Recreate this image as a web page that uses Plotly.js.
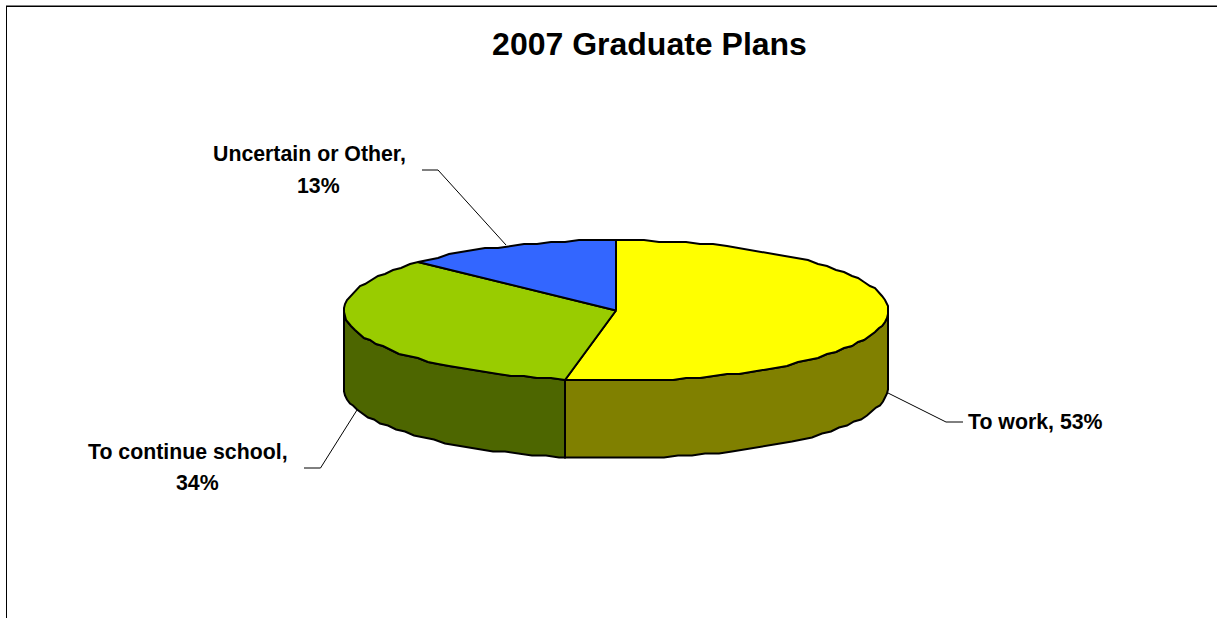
<!DOCTYPE html>
<html>
<head>
<meta charset="utf-8">
<script src="https://cdn.plot.ly/plotly-3.0.1.min.js"></script>
<style>html,body{margin:0;padding:0;background:#fff;overflow:hidden}</style>
</head>
<body>
<div id="chart" style="width:1217px;height:618px"></div>
<script>
// Survey results
const categories = ['To work', 'To continue school', 'Uncertain or Other'];
const percents = [53, 34, 13];
const chartTitle = '2007 Graduate Plans';

// Slice colours
const topColors = ['#FFFF00', '#99CC00', '#3366FF'];
const sideColors = ['#808000', '#4D6600', '#19337F'];

// Disc geometry, in the page units of the hidden axes
const disc = { cx: 616, cy: 310.5, rx: 272, ry: 70.3, depth: 77.5 };
const STEP_DEG = 3;
const GRID_Y = 2;
const snapY = v => Math.round(v / GRID_Y) * GRID_Y;

function rimPoint(deg, drop) {
  const t = deg * Math.PI / 180;
  return [Math.round(disc.cx + disc.rx * Math.sin(t)), snapY(disc.cy - disc.ry * Math.cos(t)) + drop];
}

function arc(from, to, drop) {
  const pts = [];
  const dir = to >= from ? 1 : -1;
  for (let d = from; dir * (to - d) > 0.001; d += dir * STEP_DEG) pts.push(rimPoint(d, drop));
  pts.push(rimPoint(to, drop));
  return pts;
}

const traces = [];
const tops = [];
let start = 0;
percents.forEach((p, i) => {
  const end = start + p * 3.6;
  const a = Math.max(start, 90), b = Math.min(end, 270);
  if (b > a) {
    const wall = arc(a, b, 0).concat(arc(b, a, disc.depth));
    wall.push(wall[0]);
    traces.push({
      type: 'scatter', mode: 'lines', fill: 'toself', name: categories[i] + ' side',
      x: wall.map(q => q[0]), y: wall.map(q => q[1]),
      fillcolor: sideColors[i], line: { color: '#000', width: 2 }, hoverinfo: 'skip'
    });
  }
  const face = [[disc.cx, disc.cy]].concat(arc(start, end, 0));
  face.push([disc.cx, disc.cy]);
  tops.push({
    type: 'scatter', mode: 'lines', fill: 'toself', name: categories[i],
    x: face.map(q => q[0]), y: face.map(q => q[1]),
    fillcolor: topColors[i], line: { color: '#000', width: 2 },
    text: categories[i] + ', ' + p + '%', hoverinfo: 'text'
  });
  start = end;
});

const labelFont = { family: '"Liberation Sans", Arial, sans-serif', size: 21.3, color: '#000' };

function label(text, x, y) {
  return { text: '<b>' + text + '</b>', x, y, xref: 'x', yref: 'y', showarrow: false, xanchor: 'center', yanchor: 'middle', font: labelFont };
}

const annotations = [
  label(categories[0] + ', ' + percents[0] + '%', 1035.5, 422),
  label(categories[1] + ',', 187.5, 452),
  label(percents[1] + '%', 197, 483),
  label(categories[2] + ',', 309.5, 154),
  label(percents[2] + '%', 318, 186)
];

function leader(x, y) {
  return { type: 'path', xref: 'x', yref: 'y',
    path: 'M' + x.map((v, i) => v + ',' + y[i]).join('L'),
    line: { color: '#000', width: 1 } };
}

const shapes = [
  leader([888, 946, 963], [393, 422, 422]),
  leader([357, 320.5, 304], [410, 468, 468]),
  leader([506, 438, 422], [245, 170, 170]),
  // Chart border: only the top and left edges are visible
  { type: 'line', xref: 'x', yref: 'y', x0: 6, x1: 1217, y0: 6.25, y1: 6.25, line: { color: '#000', width: 1.5 } },
  { type: 'line', xref: 'x', yref: 'y', x0: 6.5, x1: 6.5, y0: 6, y1: 618, line: { color: '#000', width: 1 } }
];

const hiddenAxis = { visible: false, showgrid: false, zeroline: false, fixedrange: true };

Plotly.newPlot('chart', traces.concat(tops), {
  width: 1217, height: 618,
  margin: { l: 0, r: 0, t: 0, b: 0 },
  paper_bgcolor: '#fff', plot_bgcolor: '#fff',
  showlegend: false,
  title: {
    text: '<b>' + chartTitle + '</b>',
    x: 649.5 / 1217, xanchor: 'center', xref: 'paper',
    y: 1 - 44 / 618, yanchor: 'middle', yref: 'container',
    font: { family: '"Liberation Sans", Arial, sans-serif', size: 32, color: '#000' }
  },
  xaxis: Object.assign({ range: [0, 1217] }, hiddenAxis),
  yaxis: Object.assign({ range: [618, 0] }, hiddenAxis),
  annotations,
  shapes
}, { displayModeBar: false, responsive: false });
</script>
</body>
</html>
